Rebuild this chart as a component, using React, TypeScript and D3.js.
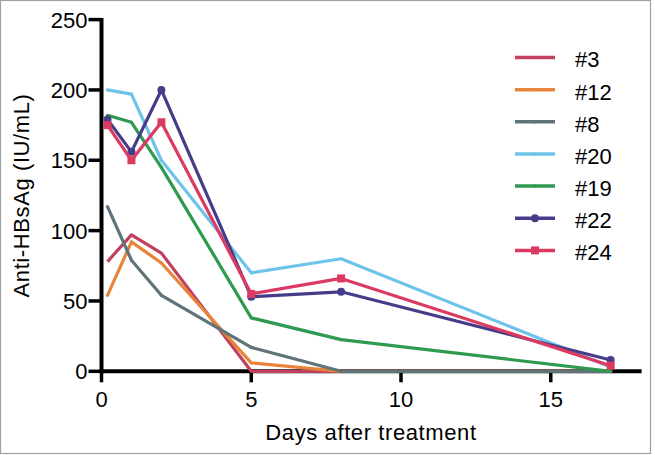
import React from "react";
import * as d3 from "d3";

const days = [0.2, 1, 2, 5, 8, 17];
const seriesNames = ["#3", "#12", "#8", "#20", "#19", "#22", "#24"];
const s3 = [78, 97, 84, 0, 0, 0];
const s12 = [54, 92, 77, 6, 0, 0];
const s8 = [117, 79, 54, 17, 0, 0];
const s20 = [200, 197, 150, 70, 80, 3];
const s19 = [182, 177, 145, 38, 22.5, 0];
const s22 = [179, 156, 200, 53, 56.5, 8];
const s24 = [175, 150, 177, 55, 66, 4];
const seriesValues = [s3, s12, s8, s20, s19, s22, s24];
const colors = ["#c0405e", "#e8843a", "#5e7478", "#6ec3ea", "#2e9a50", "#463d8a", "#dc3a60"];
const markers = ["none", "dot", "dot", "dot", "dot", "circle", "square"];
const xTicks = [0, 5, 10, 15];
const yTicks = [0, 50, 100, 150, 200, 250];

const W = 655;
const H = 455;
const FONT = "'Liberation Sans', Arial, Helvetica, sans-serif";

export default function App() {
  const x = d3.scaleLinear().domain([0, 18]).range([101.5, 640.6]);
  const y = d3.scaleLinear().domain([0, 250]).range([371.3, 19.6]);
  const line = d3
    .line<[number, number]>()
    .x((d) => x(d[0]))
    .y((d) => y(d[1]));

  const legendX0 = 515;
  const legendX1 = 555;
  const legendY0 = 57.5;
  const legendDy = 32.15;

  const marker = (kind: string, cx: number, cy: number, color: string, key: string) => {
    if (kind === "circle") return <circle key={key} cx={cx} cy={cy} r={4} fill={color} />;
    if (kind === "square")
      return <rect key={key} x={cx - 4} y={cy - 4} width={8} height={8} fill={color} />;
    if (kind === "dot") return <circle key={key} cx={cx} cy={cy} r={1.6} fill={color} />;
    return null;
  };

  return (
    <svg
      width={W}
      height={H}
      style={{ position: "absolute", left: 0, top: 0, background: "#fff" }}
      fontFamily={FONT}
    >
      <rect x={0.5} y={0.5} width={650} height={453} fill="#fff" stroke="#a0a0a0" strokeWidth={1.2} />

      {/* y axis */}
      <line x1={x(0)} x2={x(0)} y1={y(250) - 1.5} y2={y(0) + 2} stroke="#000" strokeWidth={4} />
      {yTicks.map((t) => (
        <g key={"yt" + t}>
          <line x1={x(0) - 13} x2={x(0)} y1={y(t)} y2={y(t)} stroke="#000" strokeWidth={3.5} />
          <text x={87.5} y={y(t)} dy="0.36em" textAnchor="end" fontSize={22} fill="#000">
            {t}
          </text>
        </g>
      ))}

      {/* x axis */}
      <line x1={x(0) - 2} x2={x(18) + 1} y1={y(0)} y2={y(0)} stroke="#000" strokeWidth={4} />
      {xTicks.map((t) => (
        <g key={"xt" + t}>
          <line x1={x(t)} x2={x(t)} y1={y(0)} y2={y(0) + 11} stroke="#000" strokeWidth={3.5} />
          <text x={x(t)} y={407} textAnchor="middle" fontSize={22} fill="#000">
            {t}
          </text>
        </g>
      ))}

      <text x={371} y={440} textAnchor="middle" fontSize={22} letterSpacing={0.6} fill="#000">
        Days after treatment
      </text>
      <text
        transform="translate(28.5,195.5) rotate(-90)"
        textAnchor="middle"
        fontSize={22}
        letterSpacing={0.6}
        fill="#000"
      >
        Anti-HBsAg (IU/mL)
      </text>

      {/* series */}
      {seriesValues.map((vals, i) => {
        const pts = days.map((d, j) => [d, vals[j]] as [number, number]);
        return (
          <g key={"s" + i}>
            <path d={line(pts) || ""} fill="none" stroke={colors[i]} strokeWidth={3.2} strokeLinejoin="round" />
            {pts.map((p, j) => marker(markers[i], x(p[0]), y(p[1]), colors[i], "m" + i + "-" + j))}
          </g>
        );
      })}

      {/* legend */}
      {seriesNames.map((name, i) => {
        const ly = legendY0 + i * legendDy;
        return (
          <g key={"lg" + i}>
            <line x1={legendX0} x2={legendX1} y1={ly} y2={ly} stroke={colors[i]} strokeWidth={3.5} />
            {marker(markers[i], (legendX0 + legendX1) / 2, ly, colors[i], "lm" + i)}
            <text x={575} y={ly + 2} dy="0.36em" fontSize={22} fill="#000">
              {name}
            </text>
          </g>
        );
      })}
    </svg>
  );
}
